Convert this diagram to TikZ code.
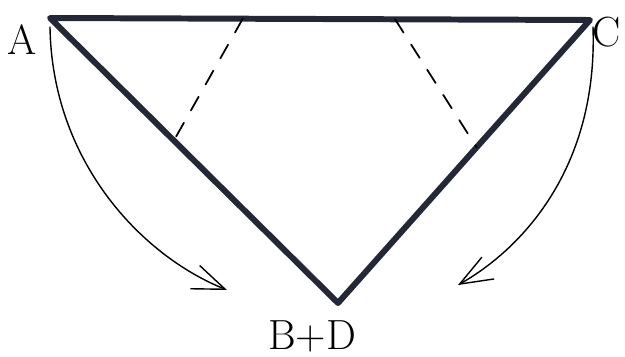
\documentclass[tikz,border=0pt]{standalone}
\usetikzlibrary{arrows.meta,calc}
\definecolor{inchiostro}{RGB}{36,40,54}
\tikzset{
  lato/.style={line width=3.4pt, draw=inchiostro},
  piega/.style={line width=1pt, dash pattern=on 9pt off 8pt},
  ribalta/.style={line width=0.8pt, -{Straight Barb[length=6.5mm, width=5mm, line width=0.8pt]}},
  etichetta/.style={font=\fontsize{24}{28}\selectfont, inner sep=0pt}
}
\begin{document}
\begin{tikzpicture}[line cap=round, line join=round]

\useasboundingbox (0,0) rectangle (12.5,7.12);

% vertici del triangolo
\coordinate (A) at (1.0,6.76);
\coordinate (C) at (11.8,6.72);
\coordinate (B) at (6.76,1.06);

% lati
\draw[lato] (A) -- (C) -- (B) -- cycle;

% linee di piega
\draw[piega] ($(A)!0.357!(C)$) -- ($(A)!0.43!(B)$);
\draw[piega] ($(A)!0.639!(C)$) -- ($(C)!0.45!(B)$);

% frecce di ribaltamento
\coordinate (A1) at (1.0,6.58);
\coordinate (A2) at (4.54,1.32);
\coordinate (C1) at (11.86,6.58);
\coordinate (C2) at (9.16,1.42);
\draw[ribalta] (A1) .. controls (1.04,3.92) and (2.8,2.02) .. (A2);
\draw[ribalta] (C1) .. controls (11.96,3.72) and (10.4,2.12) .. (C2);

% nomi dei vertici
\node[etichetta] (nA) at (0.44,6.32) {A};
\node[etichetta] (nC) at (12.14,6.48) {C};
\node[etichetta] (nBD) at (6.24,0.4) {B+D};

\end{tikzpicture}
\end{document}
